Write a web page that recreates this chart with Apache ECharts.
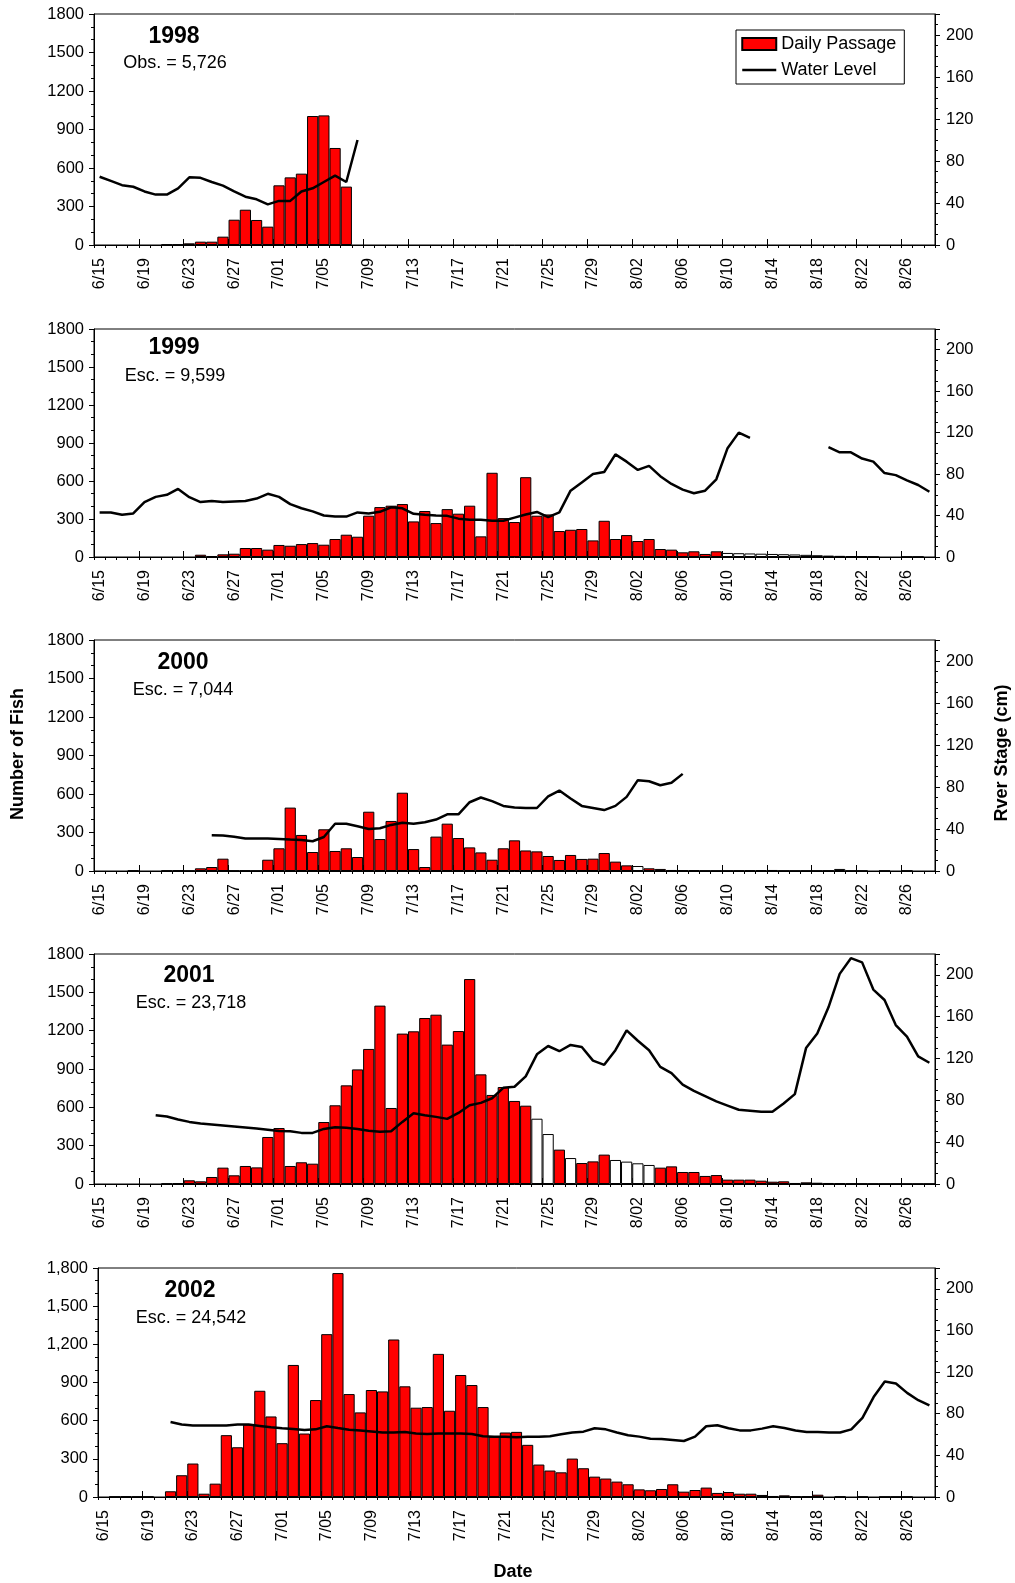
<!DOCTYPE html>
<html><head><meta charset="utf-8">
<script src="https://cdn.jsdelivr.net/npm/echarts@6/dist/echarts.min.js"></script>
<style>html,body{margin:0;padding:0;background:#fff}#c{width:1015px;height:1583px}</style>
</head><body><div id="c"></div>
<script>
const N = null;
const dates = [
 '6/15','6/16','6/17','6/18','6/19','6/20','6/21','6/22','6/23','6/24',
 '6/25','6/26','6/27','6/28','6/29','6/30','7/01','7/02','7/03','7/04',
 '7/05','7/06','7/07','7/08','7/09','7/10','7/11','7/12','7/13','7/14',
 '7/15','7/16','7/17','7/18','7/19','7/20','7/21','7/22','7/23','7/24',
 '7/25','7/26','7/27','7/28','7/29','7/30','7/31','8/01','8/02','8/03',
 '8/04','8/05','8/06','8/07','8/08','8/09','8/10','8/11','8/12','8/13',
 '8/14','8/15','8/16','8/17','8/18','8/19','8/20','8/21','8/22','8/23',
 '8/24','8/25','8/26','8/27','8/28'];

const years = ['1998','1999','2000','2001','2002'];
const notes = ['Obs. = 5,726','Esc. = 9,599','Esc. = 7,044','Esc. = 23,718','Esc. = 24,542'];

const passage1998 = [
 N,N,N,N,N,N,3,3,13,26,
 26,65,197,275,195,143,465,527,556,1005,
 1010,756,455];
const est1998 = [];
const level1998 = [
 65,61,57,55.5,51,48,48,54,64.5,64,
 60,56.5,51,46,43.5,38.7,42,42,51,54,
 60,66,60,100];

const passage1999 = [
 N,N,N,N,N,N,N,N,N,18,
 8,21,26,71,71,58,95,89,102,110,
 97,142,176,160,326,394,405,418,281,363,
 268,378,342,405,163,665,307,276,630,326,
 336,205,215,221,131,286,142,173,126,142,
 63,58,37,45,24,45];
const est1999 = [['8/10',32],['8/11',30],['8/12',28],['8/13',26],['8/14',24],['8/15',22],['8/16',20],
 ['8/17',17],['8/18',14],['8/19',11],['8/20',9],['8/21',7],['8/22',5],['8/23',3],['8/26',2],['8/27',2]];
const level1999 = [
 43,43,40.7,42,53,58,60,65.7,57.7,53,
 54,53,53.5,54,56.4,61,58,51,47,44,
 40,39,39,43,42,43.6,48,47,41.7,40.7,
 40,39.7,37,36,36,35,35,38,41,43.5,
 38.5,43,64,72,80,82,99,92,84,88,
 78,70.5,65,61.5,64,75,105,120,115,N,
 N,N,N,N,N,106,101,101,95,92,
 81,79,74,69.5,63];

const passage2000 = [
 N,N,N,3,N,N,3,5,2,21,
 31,96,3,4,2,88,177,494,281,148,
 325,156,177,109,462,249,390,610,171,31,
 268,369,257,184,145,88,177,239,160,153,
 117,86,125,94,96,140,73,44,N,21,
 16,8,N,5,3,2,2,3,4,5,
 8,2,2,2,2,3,N,2,2,N,
 2,N,2,N,N];
const est2000 = [['8/02',39],['8/06',5],['8/20',16]];
const level2000 = [
 N,N,N,N,N,N,N,N,N,N,
 34,33.7,32.7,31,31,31,30.5,30,29.6,28.3,
 32.4,45,45,42.6,40,40.7,43.9,46,45,46.4,
 49,54,54,65.5,70,66.5,62,60.5,60,60,
 71,76.6,69,62,60,58,62,70.6,86.5,85.5,
 81.7,84,92.5];

const passage2001 = [
 N,N,N,N,N,N,3,6,29,21,
 55,128,68,141,130,368,438,141,170,159,
 485,616,772,897,1057,1396,595,1177,1195,1299,
 1325,1091,1197,1604,858,697,759,650,613,N,
 N,269,N,164,177,230,N,N,N,N,
 128,138,94,94,63,70,34,34,34,26,
 18,21,8,13,10,8,5,4,3,2,
 2,2,1,1,1];
const est2001 = [['7/24',511],['7/25',391],['7/27',203],['7/31',188],['8/01',175],['8/02',162],['8/03',149]];
const level2001 = [
 N,N,N,N,N,65.8,64.5,61.7,59.4,57.8,
 56.9,56,55,54,53,52,50.8,50.5,48.9,48.9,
 52.7,54.3,53.7,52.7,51,50,50.5,59.4,67.7,65.8,
 64.2,62.3,68,75.4,77.6,82,92,93,103,124,
 132,127,133,131,118,114,128,147,137,128,
 112,106,95,89,84,79,75,71,70,69,
 69,77,86,130,144,169,201,216,212,186,
 176,152,141,122,116];

const passage2002 = [
 N,3,5,3,3,N,45,171,263,26,
 105,486,391,570,835,633,423,1038,499,762,
 1280,1760,809,665,841,830,1238,870,702,707,
 1125,678,959,880,707,473,507,512,410,255,
 208,194,302,226,160,145,121,100,60,53,
 63,100,42,55,74,32,39,26,26,16,
 8,13,5,5,18];
const est2002 = [['8/20',3],['8/22',2],['8/24',2],['8/25',2],['8/26',2]];
const level2002 = [
 N,N,N,N,N,N,72,69.6,68.6,68.6,
 68.6,68.6,69.6,69.6,68.3,67,66,65.4,64.4,65,
 68,66.3,64.7,64,63,62,62,62.5,61,60.5,
 61,61,61,60.5,58.3,58,58,57.4,58,58,
 58.3,60.3,62,62.8,66,65,62,59.3,58,56,
 55.8,54.8,53.8,58,68,69,66,64,64,65.7,
 68,66.3,63.8,62.5,62.5,62,62,65,76,96,
 111,109,100,93,88];

const passages = [passage1998, passage1999, passage2000, passage2001, passage2002];
const estimates = [est1998, est1999, est2000, est2001, est2002];
const levels = [level1998, level1999, level2000, level2001, level2002];

// layout only
const layout = [
 {top:14,   height:231, left:94, yx:174, yy:37,   nx:175, ny:63},
 {top:329,  height:228, left:94, yx:174, yy:348,  nx:175, ny:376},
 {top:640,  height:231, left:94, yx:183, yy:663,  nx:183, ny:690},
 {top:954,  height:230, left:94, yx:189, yy:976,  nx:191, ny:1003},
 {top:1268, height:229, left:98, yx:190, yy:1291, nx:191, ny:1318}
];

const FONT = '"Liberation Sans", Arial, sans-serif';
const grid = [], xAxis = [], yAxis = [], series = [], elements = [];

years.forEach((yr, k) => {
  const L = layout[k];
  grid.push({left: L.left, right: 80, top: L.top, height: L.height, show: true,
    borderColor: '#000', borderWidth: 1, backgroundColor: 'transparent',
    containLabel: false, outerBoundsMode: 'none'});
  xAxis.push({type: 'category', gridIndex: k, data: dates, position: 'bottom', boundaryGap: true,
    axisLine: {show: true, onZero: false, lineStyle: {color: '#000', width: 1}},
    axisTick: {show: true, interval: 3, inside: true, length: 6, lineStyle: {color: '#000', width: 1}},
    axisLabel: {show: true, interval: 3, rotate: 90, margin: 13, fontSize: 16, color: '#000', fontFamily: FONT},
    splitLine: {show: false}});
  xAxis.push({type: 'category', gridIndex: k, data: dates, position: 'bottom', boundaryGap: true,
    axisLine: {show: false},
    axisTick: {show: true, interval: 0, length: 3, lineStyle: {color: '#000', width: 1}},
    axisLabel: {show: false}, splitLine: {show: false}});
  yAxis.push({type: 'value', gridIndex: k, position: 'left', min: 0, max: 1800, interval: 300,
    axisLine: {show: true, lineStyle: {color: '#000', width: 1}},
    axisTick: {show: true, length: 5, lineStyle: {color: '#000'}},
    minorTick: {show: true, splitNumber: 3, length: 3, lineStyle: {color: '#000'}},
    axisLabel: {margin: 10, fontSize: 16.5, color: '#000', fontFamily: FONT,
      formatter: k === 4 ? (v => Number(v).toLocaleString('en-US')) : (v => String(v))},
    splitLine: {show: false}, minorSplitLine: {show: false}});
  yAxis.push({type: 'value', gridIndex: k, position: 'right', min: 0, max: 220, interval: 40,
    axisLine: {show: true, lineStyle: {color: '#000', width: 1}},
    axisTick: {show: true, length: 5, lineStyle: {color: '#000'}},
    minorTick: {show: true, splitNumber: 4, length: 3, lineStyle: {color: '#000'}},
    axisLabel: {margin: 11, fontSize: 16.5, color: '#000', fontFamily: FONT,
      formatter: v => (v > 200 ? '' : String(v))},
    splitLine: {show: false}, minorSplitLine: {show: false}});

  series.push({type: 'bar', name: 'Daily Passage', xAxisIndex: 2*k, yAxisIndex: 2*k,
    data: passages[k], barWidth: '100%', barGap: '-100%', barCategoryGap: 0,
    itemStyle: {color: '#ff0000', borderColor: '#000', borderWidth: 1}});
  series.push({type: 'bar', name: 'Estimated', xAxisIndex: 2*k, yAxisIndex: 2*k,
    data: estimates[k], barWidth: '100%', barGap: '-100%', barCategoryGap: 0,
    itemStyle: {color: '#ffffff', borderColor: '#000', borderWidth: 1}});
  series.push({type: 'line', name: 'Water Level', xAxisIndex: 2*k, yAxisIndex: 2*k+1,
    data: levels[k], symbol: 'none', showSymbol: false, connectNulls: false, z: 5,
    lineStyle: {color: '#000', width: 2.5}, itemStyle: {color: '#000'}});

  elements.push({type: 'text', x: L.yx, y: L.yy, style: {text: yr, fill: '#000',
    font: 'bold 23px ' + FONT, textAlign: 'center', textVerticalAlign: 'middle'}});
  elements.push({type: 'text', x: L.nx, y: L.ny, style: {text: notes[k], fill: '#000',
    font: '18px ' + FONT, textAlign: 'center', textVerticalAlign: 'middle'}});
});

elements.push({type: 'text', x: 18, y: 754, rotation: Math.PI/2, style: {text: 'Number of Fish', fill: '#000',
  font: 'bold 18px ' + FONT, textAlign: 'center', textVerticalAlign: 'middle'}});
elements.push({type: 'text', x: 1002, y: 753, rotation: Math.PI/2, style: {text: 'Rver Stage (cm)', fill: '#000',
  font: 'bold 18px ' + FONT, textAlign: 'center', textVerticalAlign: 'middle'}});
elements.push({type: 'text', x: 513, y: 1572, style: {text: 'Date', fill: '#000',
  font: 'bold 18px ' + FONT, textAlign: 'center', textVerticalAlign: 'middle'}});

const chart = echarts.init(document.getElementById('c'), null, {renderer: 'canvas'});
chart.setOption({
  animation: false,
  backgroundColor: '#fff',
  textStyle: {fontFamily: FONT, color: '#000'},
  grid, xAxis, yAxis, series,
  legend: {show: true, left: 736, top: 30, orient: 'vertical', backgroundColor: '#fff',
    borderColor: '#000', borderWidth: 1, borderRadius: 0, padding: [5, 8, 5, 5], itemGap: 8,
    itemWidth: 34, itemHeight: 12, selectedMode: false,
    textStyle: {fontSize: 18, color: '#000', fontFamily: FONT},
    data: [{name: 'Daily Passage', icon: 'rect'},
           {name: 'Water Level', itemStyle: {opacity: 0, color: 'transparent', borderWidth: 0},
            lineStyle: {color: '#000', width: 2.5, opacity: 1}}]},
  graphic: {elements}
});
</script></body></html>
